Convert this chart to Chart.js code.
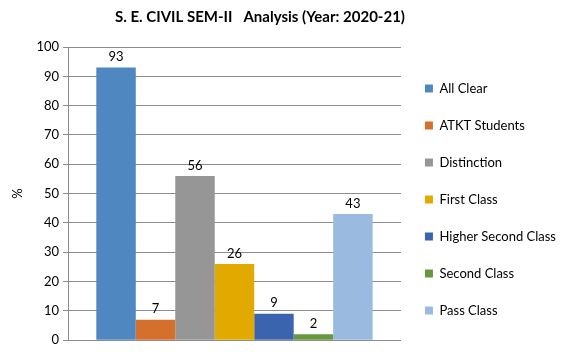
<!DOCTYPE html>
<html>
<head>
<meta charset="utf-8">
<script src="https://cdn.jsdelivr.net/npm/chart.js@4"></script>
<style>
  html, body { margin: 0; padding: 0; background: #fff; }
  #wrap { width: 566px; height: 352px; position: relative; }
</style>
</head>
<body>
<div id="wrap"><canvas id="resultChart"></canvas></div>
<script>
// data
const chartTitle = 'S. E. CIVIL SEM-II   Analysis (Year: 2020-21)';
const seriesNames = ['All Clear', 'ATKT Students', 'Distinction', 'First Class', 'Higher Second Class', 'Second Class', 'Pass Class'];
const seriesValues = [93, 7, 56, 26, 9, 2, 43];
const seriesColors = ['#4F88C0', '#D4702C', '#969696', '#E2AA00', '#3A64AE', '#66993F', '#9ABAE0'];
const yTicks = [0, 10, 20, 30, 40, 50, 60, 70, 80, 90, 100];

const FONT = 'Lato, "Liberation Sans", sans-serif';

// value labels above bars + title (centered like the original)
const labelPlugin = {
    id: 'valueLabels',
    afterDatasetsDraw(chart) {
        const ctx = chart.ctx;
        ctx.save();
        ctx.font = '13px ' + FONT;
        ctx.fillStyle = '#000';
        ctx.textAlign = 'center';
        ctx.textBaseline = 'bottom';
        chart.data.datasets.forEach((ds, i) => {
            const bar = chart.getDatasetMeta(i).data[0];
            ctx.fillText(ds.data[0], bar.x, bar.y - 4);
        });
        ctx.font = 'bold 15px ' + FONT;
        ctx.textBaseline = 'middle';
        ctx.fillText(chartTitle, 260, 17);
        ctx.restore();
    }
};

new Chart(document.getElementById('resultChart'), {
    type: 'bar',
    data: {
        labels: [''],
        datasets: seriesNames.map((name, i) => ({
            label: name,
            data: [seriesValues[i]],
            backgroundColor: seriesColors[i],
            categoryPercentage: 0.83,
            barPercentage: 1
        }))
    },
    options: {
        responsive: true,
        maintainAspectRatio: false,
        animation: false,
        layout: { padding: { top: 47, bottom: 0, left: 0, right: 0 } },
        plugins: {
            title: { display: false },
            tooltip: { enabled: false },
            legend: {
                position: 'right',
                maxWidth: 180,
                labels: {
                    boxWidth: 8,
                    boxHeight: 8,
                    padding: 24,
                    color: '#000',
                    font: { family: FONT, size: 13 }
                }
            }
        },
        scales: {
            x: {
                afterFit(s) { s.height = 9; },
                grid: { display: false },
                border: { color: '#8c8c8c' },
                ticks: { display: false }
            },
            y: {
                min: 0,
                max: 100,
                afterFit(s) { s.width = 68; },
                afterBuildTicks(s) { s.ticks = yTicks.map(v => ({ value: v })); },
                title: { display: true, text: '%', color: '#000', padding: { top: 10, bottom: 0 }, font: { family: FONT, size: 13 } },
                grid: { color: '#8c8c8c', tickLength: 5 },
                border: { color: '#8c8c8c' },
                ticks: { color: '#000', font: { family: FONT, size: 13 }, padding: 4 }
            }
        }
    },
    plugins: [labelPlugin]
});
</script>
</body>
</html>
